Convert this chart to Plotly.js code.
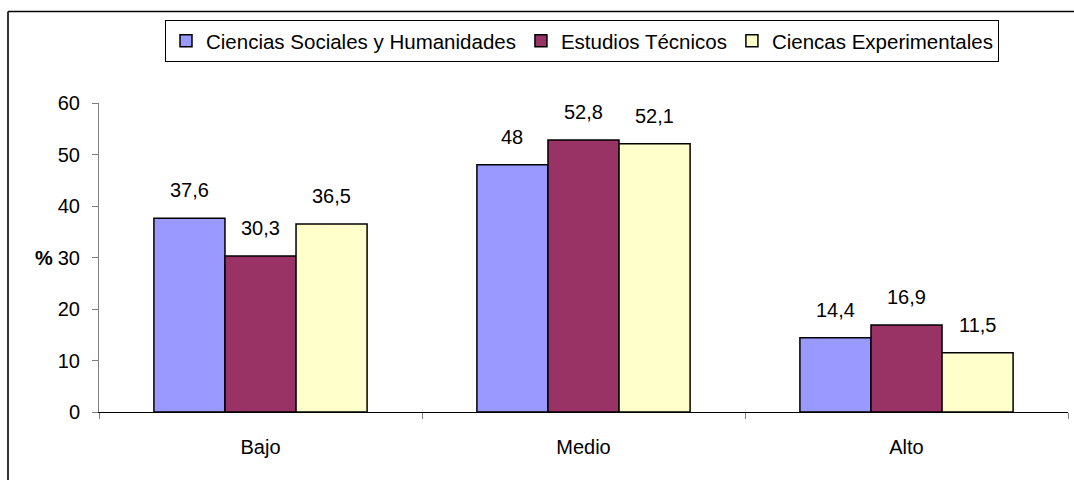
<!DOCTYPE html>
<html>
<head>
<meta charset="utf-8">
<script src="https://cdn.plot.ly/plotly-3.0.1.min.js"></script>
<style>
  html, body { margin: 0; padding: 0; background: #ffffff; }
  #chart { width: 1074px; height: 480px; }
</style>
</head>
<body>
<div id="chart"></div>
<script>
// Niveles y porcentajes por área de estudios
const categories = ['Bajo', 'Medio', 'Alto'];
const seriesNames = ['Ciencias Sociales y Humanidades', 'Estudios Técnicos', 'Ciencas Experimentales'];
const socialesValues = [37.6, 48, 14.4];
const tecnicosValues = [30.3, 52.8, 16.9];
const experimentalesValues = [36.5, 52.1, 11.5];
const yTicks = [0, 10, 20, 30, 40, 50, 60];

const seriesValues = [socialesValues, tecnicosValues, experimentalesValues];
const colors = ['#9999FF', '#993366', '#FFFFCC'];
const FONT = 'Arial, "Liberation Sans", sans-serif';

const W = 1074, H = 480;
const margin = { l: 99, r: 6, t: 103, b: 68 };
const plotW = W - margin.l - margin.r;
const plotH = H - margin.t - margin.b;
const bargap = 0.34;
const barUnit = (1 - bargap) / seriesValues.length;

const fmt = v => String(v).replace('.', ',');

const traces = seriesValues.map((vals, i) => ({
  type: 'bar',
  name: seriesNames[i],
  x: categories,
  y: vals,
  marker: { color: colors[i], line: { color: '#000000', width: 1.5 } },
  hoverinfo: 'skip'
}));

// Etiquetas de valor encima de cada barra
const annotations = [];
seriesValues.forEach((vals, i) => {
  vals.forEach((v, j) => {
    annotations.push({
      xref: 'x', yref: 'y',
      x: j + (i - (seriesValues.length - 1) / 2) * barUnit,
      y: v,
      text: fmt(v),
      showarrow: false,
      yanchor: 'middle',
      yshift: 28,
      font: { family: FONT, size: 20, color: '#000000' }
    });
  });
});

// Título del eje Y, horizontal
annotations.push({
  xref: 'paper', yref: 'y',
  x: (44 - margin.l) / plotW, y: 30,
  text: '<b>%</b>',
  showarrow: false,
  xanchor: 'center', yanchor: 'middle',
  font: { family: FONT, size: 20, color: '#000000' }
});

const px = x => (x - margin.l) / plotW;
const py = y => (H - margin.b - y) / plotH;

const shapes = [
  // marco exterior del gráfico
  { type: 'line', xref: 'paper', yref: 'paper', x0: px(8), x1: px(1080), y0: py(11.5), y1: py(11.5),
    line: { color: '#000000', width: 1.5 } },
  { type: 'line', xref: 'paper', yref: 'paper', x0: px(8), x1: px(8), y0: py(11.5), y1: py(490),
    line: { color: '#333333', width: 2 } }
];

const layout = {
  width: W, height: H,
  margin: margin,
  paper_bgcolor: '#ffffff',
  plot_bgcolor: '#ffffff',
  barmode: 'group',
  bargap: bargap,
  bargroupgap: 0,
  showlegend: true,
  legend: {
    orientation: 'h',
    x: px(582), xanchor: 'center',
    y: py(20), yanchor: 'top',
    bordercolor: '#000000', borderwidth: 1,
    bgcolor: '#ffffff',
    font: { family: FONT, size: 20.5, color: '#000000' },
    itemwidth: 30,
    tracegroupgap: 0
  },
  xaxis: {
    type: 'category',
    showline: true, linecolor: '#000000', linewidth: 1,
    ticks: 'outside', tickson: 'boundaries', ticklen: 6, tickcolor: '#808080',
    ticklabelstandoff: 17,
    tickfont: { family: FONT, size: 20, color: '#000000' },
    showgrid: false, zeroline: false, fixedrange: true
  },
  yaxis: {
    range: [0, 60],
    tickvals: yTicks,
    showline: true, linecolor: '#808080', linewidth: 1,
    ticks: 'outside', ticklen: 6, tickcolor: '#808080',
    ticklabelstandoff: 8,
    tickfont: { family: FONT, size: 20, color: '#000000' },
    showgrid: false, zeroline: false, fixedrange: true
  },
  annotations: annotations,
  shapes: shapes
};

Plotly.newPlot('chart', traces, layout, { displayModeBar: false, staticPlot: true });
</script>
</body>
</html>
